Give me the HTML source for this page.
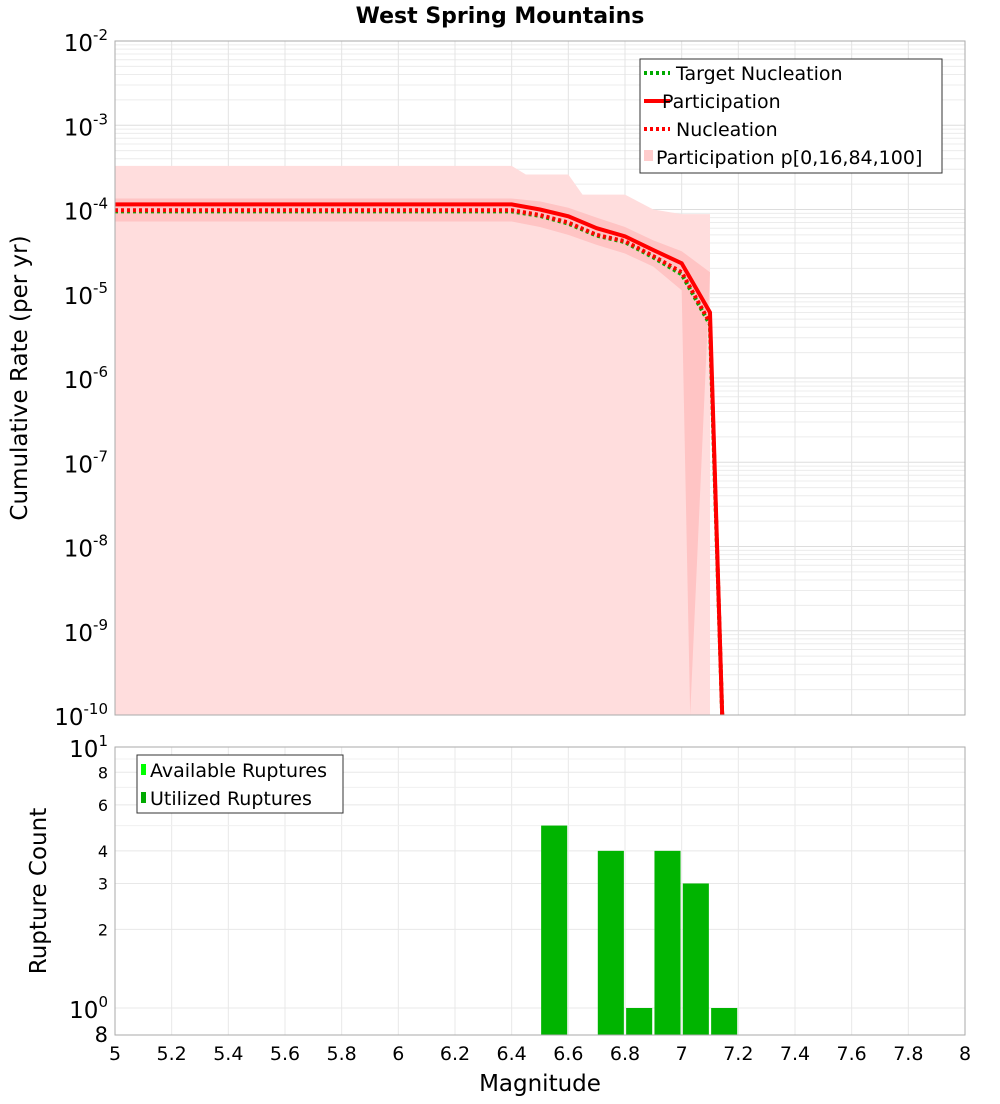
<!DOCTYPE html>
<html><head><meta charset="utf-8"><style>
body{margin:0;background:#fff;font-family:"DejaVu Sans","Liberation Sans",sans-serif;}
svg text{font-family:"DejaVu Sans","Liberation Sans",sans-serif;}
</style></head><body>
<svg id="c" width="1000" height="1100" xmlns="http://www.w3.org/2000/svg">
<text x="500" y="23" text-anchor="middle" font-size="22" font-weight="bold">West Spring Mountains</text>
<text transform="translate(27,378) rotate(-90)" text-anchor="middle" font-size="23">Cumulative Rate (per yr)</text>
<text transform="translate(46,891) rotate(-90)" text-anchor="middle" font-size="23">Rupture Count</text>
<text x="540" y="1091" text-anchor="middle" font-size="23">Magnitude</text>
<g id="topg"></g><g id="botg"></g>
</svg>
<script>
// ---- data ----
const mags = [5.0, 6.4, 6.5, 6.6, 6.7, 6.8, 6.9, 7.0, 7.1, 7.143];
const participation = [1.15e-4, 1.15e-4, 1.0e-4, 8.3e-5, 6.0e-5, 4.8e-5, 3.3e-5, 2.3e-5, 6.0e-6, 1e-10];
const nucleation = [9.8e-5, 9.8e-5, 8.6e-5, 7.0e-5, 5.0e-5, 4.2e-5, 2.8e-5, 1.8e-5, 4.5e-6, 1e-10];
const targetNucleation = [9.5e-5, 9.5e-5, 8.4e-5, 6.8e-5, 4.9e-5, 4.1e-5, 2.7e-5, 1.7e-5, 4.3e-6, 1e-10];
const outerMags = [5.0, 6.4, 6.45, 6.6, 6.65, 6.8, 6.9, 7.0, 7.1];
const outerUpper = [3.3e-4, 3.3e-4, 2.6e-4, 2.6e-4, 1.5e-4, 1.5e-4, 1.0e-4, 8.8e-5, 8.8e-5];
const outerLowerMags = [5.0, 7.05, 7.1];
const outerLower = [1e-10, 1e-10, 1e-10];
const innerMags = [5.0, 6.4, 6.5, 6.6, 6.7, 6.8, 6.9, 7.0, 7.1];
const innerUpper = [1.35e-4, 1.35e-4, 1.25e-4, 1.05e-4, 8e-5, 6.2e-5, 4.3e-5, 3.2e-5, 1.8e-5];
const innerLower = [7.2e-5, 7.2e-5, 6.2e-5, 5.0e-5, 3.8e-5, 3.0e-5, 2.1e-5, 1.1e-5, 1e-10];
const barMags = [6.55, 6.75, 6.85, 6.95, 7.05, 7.15];
const barCounts = [5, 4, 1, 4, 3, 1];
const xTicks = [5,5.2,5.4,5.6,5.8,6,6.2,6.4,6.6,6.8,7,7.2,7.4,7.6,7.8,8];
const yDecades = [-10,-9,-8,-7,-6,-5,-4,-3,-2];
const botTicks = [8,6,4,3,2];
// ---- axes ----
const X0=115,X1=965;
const x=m=>X0+(m-5)/3*(X1-X0);
const TY0=41,TY1=715;
const ty=v=>TY0+(-2-Math.log10(v))/8*(TY1-TY0);
const BY0=747,BY1=1035;
const by=v=>1008-Math.log10(v)*261;
const NS='http://www.w3.org/2000/svg';
function mk(tag,attrs,parent){const e=document.createElementNS(NS,tag);for(const k in attrs)e.setAttribute(k,attrs[k]);parent.appendChild(e);return e;}
const topG=document.getElementById('topg'), botG=document.getElementById('botg');
// top grid
for(let d=-10;d<-2;d++){for(let k=1;k<10;k++){const yy=ty(k*Math.pow(10,d));const l=mk('line',{x1:X0,x2:X1,y1:yy,y2:yy,stroke:k==1?'#ddd':'#ececec','stroke-width':1},topG);

}}
xTicks.forEach(t=>{const l=mk('line',{x1:x(t),x2:x(t),y1:TY0,y2:TY1,stroke:'#e4e4e4'},topG);


const l2=mk('line',{x1:x(t),x2:x(t),y1:BY0,y2:BY1,stroke:'#e8e8e8'},botG);


const tx=mk('text',{x:x(t),y:1060,'text-anchor':'middle','font-size':19},botG);tx.textContent=String(t);

});
const clampY=v=>Math.min(ty(Math.max(v,1e-12)),TY1);
function band(ms,up,lms,lo){let p='';ms.forEach((m,i)=>{p+=(i?'L':'M')+x(m)+','+clampY(up[i]);});for(let i=lms.length-1;i>=0;i--)p+='L'+x(lms[i])+','+clampY(lo[i]);return p+'Z';}
const ob=mk('path',{d:band(outerMags,outerUpper,outerLowerMags,outerLower),fill:'#ffdddd'},topG);


const ib=mk('path',{d:band(innerMags,innerUpper,innerMags.map((m,i)=>i==innerMags.length-1?7.03:m),innerLower),fill:'#ffc4c4'},topG);


function line(vals,stroke,dash,w){return mk('polyline',{points:mags.map((m,i)=>x(m)+','+clampY(vals[i])).join(' '),fill:'none',stroke:stroke,'stroke-width':w,'stroke-dasharray':dash||'none'},topG);}
const lt=line(targetNucleation,'#00aa00','3,3',4);


const ln=line(nucleation,'#ff0000','3,3',4);


const lp=line(participation,'#ff0000',null,4);


const tf=mk('rect',{x:X0,y:TY0,width:X1-X0,height:TY1-TY0,fill:'none',stroke:'#aaa'},topG);


yDecades.forEach(d=>{const t=mk('text',{x:108,y:ty(Math.pow(10,d))+10,'text-anchor':'end','font-size':23},topG);


t.appendChild(document.createTextNode('10'));
const s=mk('tspan',{dy:-11,'font-size':15},t);s.textContent=String(d);});
// top legend
const lg=mk('g',{},topG);


mk('rect',{x:640,y:59,width:302,height:114,fill:'#fff',stroke:'#333'},lg);
[['Target Nucleation','#00aa00','3,3'],['Participation','#ff0000',null],['Nucleation','#ff0000','3,3']].forEach((e,i)=>{const yy=73+i*28;
mk('line',{x1:644,x2:670,y1:yy,y2:yy,stroke:e[1],'stroke-width':4,'stroke-dasharray':e[2]||'none'},lg);
const t=mk('text',{x:i==1?662:676,y:yy+7,'font-size':19},lg);t.textContent=e[0];

});
mk('rect',{x:644,y:150,width:9,height:11,fill:'#ffcccc'},lg);
const t4=mk('text',{x:656,y:164,'font-size':19},lg);t4.textContent='Participation p[0,16,84,100]';


// bottom grid
[10,8,6,4,3,2,1].forEach(v=>{const l=mk('line',{x1:X0,x2:X1,y1:by(v),y2:by(v),stroke:'#e8e8e8'},botG);

});
[9,7,5].forEach(v=>{mk('line',{x1:X0,x2:X1,y1:by(v),y2:by(v),stroke:'#f0f0f0'},botG);});
barMags.forEach((m,i)=>{const w=(X1-X0)/3*0.092;const r=mk('rect',{x:x(m)-w/2,y:by(barCounts[i]),width:w,height:BY1-by(barCounts[i]),fill:'#00b400'},botG);

});
const bf=mk('rect',{x:X0,y:BY0,width:X1-X0,height:BY1-BY0,fill:'none',stroke:'#aaa'},botG);


[[10,'10','1'],[1,'10','0']].forEach(e=>{const t=mk('text',{x:108,y:by(e[0])+10,'text-anchor':'end','font-size':23},botG);


t.appendChild(document.createTextNode(e[1]));
const s=mk('tspan',{dy:-11,'font-size':15},t);s.textContent=e[2];});
botTicks.forEach(v=>{const t=mk('text',{x:108,y:by(v)+6,'text-anchor':'end','font-size':16},botG);t.textContent=String(v);

});
const t08=mk('text',{x:108,y:1042,'text-anchor':'end','font-size':21},botG);t08.textContent='8';


const bl=mk('g',{},botG);


mk('rect',{x:137,y:755,width:206,height:58,fill:'#fff',stroke:'#333'},bl);
mk('rect',{x:141,y:764,width:5,height:11,fill:'#00ff00'},bl);
mk('rect',{x:141,y:792,width:5,height:11,fill:'#00aa00'},bl);
const a1=mk('text',{x:150,y:777,'font-size':19},bl);a1.textContent='Available Ruptures';


const a2=mk('text',{x:150,y:805,'font-size':19},bl);a2.textContent='Utilized Ruptures';


</script>
</body></html>
